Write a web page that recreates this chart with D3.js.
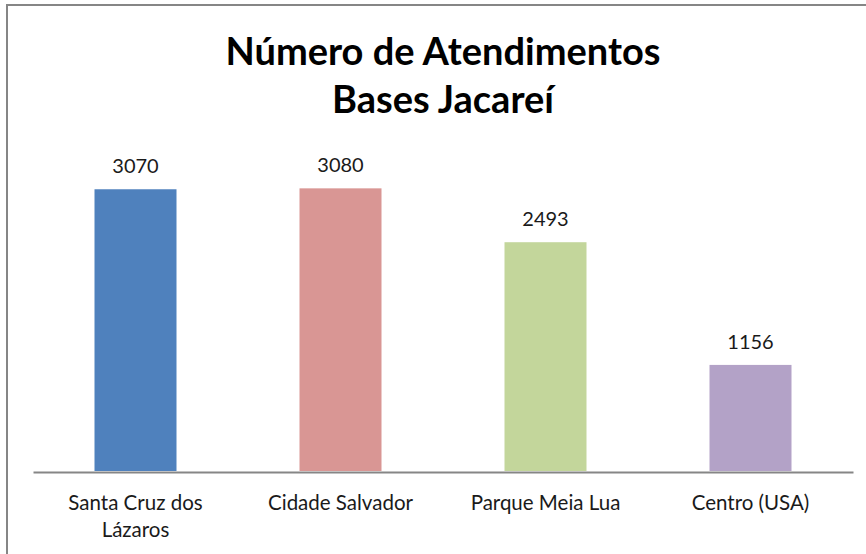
<!DOCTYPE html>
<html><head><meta charset="utf-8">
<script src="https://cdn.jsdelivr.net/npm/d3@7"></script>
<style>html,body{margin:0;padding:0;background:#fff;overflow:hidden}</style>
</head><body>
<svg id="c" width="866" height="554"></svg>
<script>
const titleLines = ["Número de Atendimentos", "Bases Jacareí"];
const categories = ["Santa Cruz dos Lázaros", "Cidade Salvador", "Parque Meia Lua", "Centro (USA)"];
const categoryLines = [["Santa Cruz dos", "Lázaros"], ["Cidade Salvador"], ["Parque Meia Lua"], ["Centro (USA)"]];
const values = [3070, 3080, 2493, 1156];
const colors = ["#4F81BD", "#D99694", "#C3D69B", "#B3A2C7"];

const svg = d3.select("#c");
const font = "Lato, 'Open Sans', sans-serif";

// chart frame (right/bottom edges cropped out of view)
svg.append("rect").attr("x", 7).attr("y", 5).attr("width", 900).attr("height", 600)
  .attr("fill", "#fff").attr("stroke", "#868686").attr("stroke-width", 2);

const x = d3.scaleBand().domain(categories).range([33, 853]).paddingInner(0.6).paddingOuter(0.3);
const y = d3.scaleLinear().domain([0, 3500]).range([471, 149.8]);

// title
svg.append("text").attr("x", 443).attr("text-anchor", "middle")
  .attr("font-family", font).attr("font-weight", "bold").attr("font-size", 38).attr("fill", "#000")
  .selectAll("tspan").data(titleLines).join("tspan")
  .attr("x", 443).attr("y", (d, i) => 65 + i * 48).text(d => d);

// bars
svg.append("g").selectAll("rect").data(values).join("rect")
  .attr("x", (d, i) => x(categories[i]))
  .attr("width", x.bandwidth())
  .attr("y", d => y(d))
  .attr("height", d => y(0) - y(d))
  .attr("fill", (d, i) => colors[i]);

// value labels
svg.append("g").selectAll("text").data(values).join("text")
  .attr("x", (d, i) => x(categories[i]) + x.bandwidth() / 2)
  .attr("y", d => y(d) - 16)
  .attr("text-anchor", "middle")
  .attr("font-family", font).attr("font-size", 20).attr("fill", "#1a1a1a")
  .text(d => d);

// x axis
const xAxis = d3.axisBottom(x).tickSize(0).tickFormat("");
const ax = svg.append("g").attr("transform", "translate(0,472)").call(xAxis);
ax.select(".domain").attr("stroke", "#868686").attr("stroke-width", 2);

// category labels
const cl = svg.append("g").selectAll("text").data(categories).join("text")
  .attr("text-anchor", "middle")
  .attr("font-family", font).attr("font-size", 20.5).attr("fill", "#1a1a1a");
cl.selectAll("tspan").data((d, i) => categoryLines[i].map(t => ({t, c: d})))
  .join("tspan")
  .attr("x", d => x(d.c) + x.bandwidth() / 2)
  .attr("y", (d, i) => 510 + i * 27)
  .text(d => d.t);
</script>
</body></html>
